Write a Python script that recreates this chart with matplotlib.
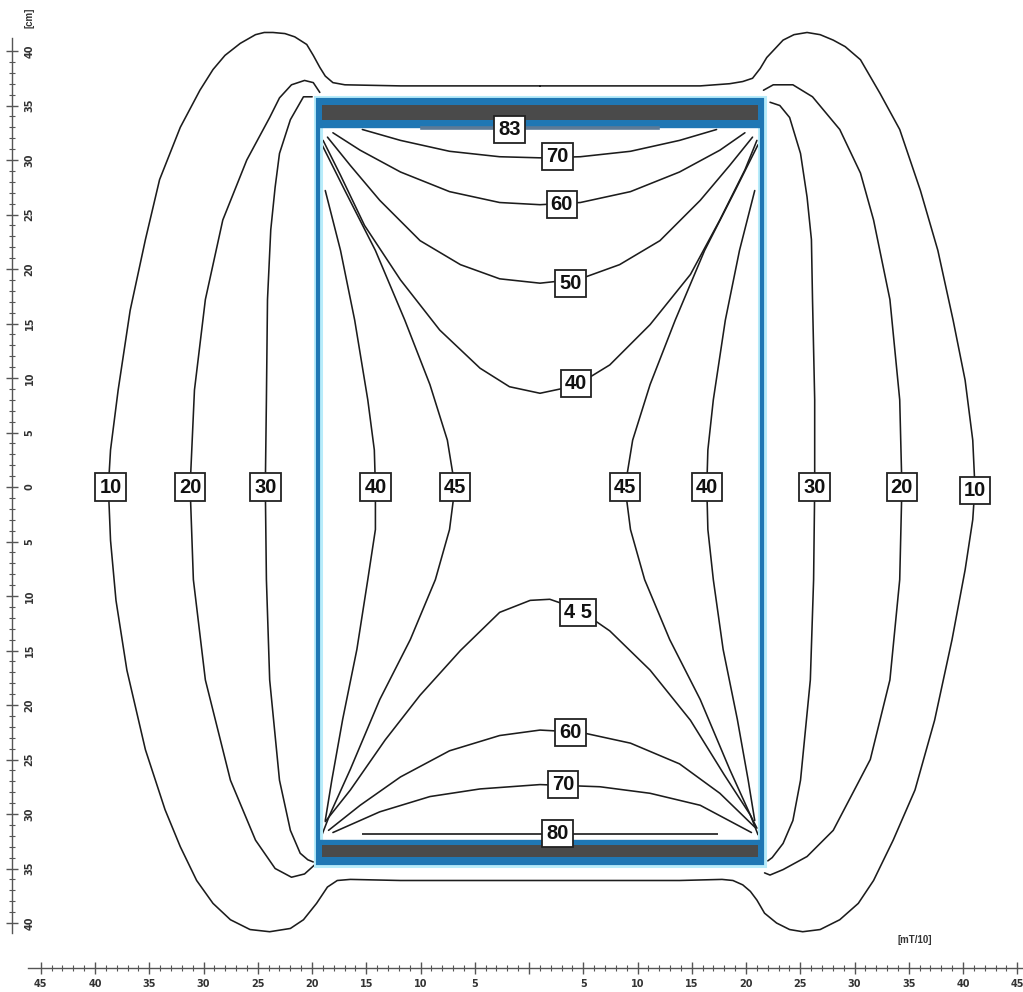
import matplotlib
matplotlib.use("Agg")
import matplotlib.pyplot as plt
from matplotlib.patches import Rectangle
from matplotlib.ticker import FixedLocator, FuncFormatter
import numpy as np

# ---------------- data (cm) ----------------
contour_10 = [(0, 36.8), (-12.8, 36.8), (-17.9, 36.9), (-19.0, 37.1), (-19.7, 37.7), (-20.2, 38.5),
              (-20.8, 39.6), (-21.4, 40.6), (-22.5, 41.3), (-23.4, 41.6), (-24.5, 41.7), (-25.3, 41.7),
              (-26.1, 41.5), (-27.5, 40.7),
              (-28.9, 39.6), (-30.0, 38.3), (-31.2, 36.4), (-33.0, 33.0), (-34.9, 28.2), (-36.2, 22.7),
              (-37.6, 16.2), (-38.7, 8.9), (-39.4, 3.4), (-39.6, 0), (-39.4, -4.9), (-38.9, -10.4),
              (-37.9, -16.8), (-36.2, -24.1), (-34.4, -29.6), (-33.0, -33.0), (-31.5, -36.1),
              (-30.0, -38.2), (-28.4, -39.7), (-26.6, -40.6), (-24.8, -40.8), (-22.9, -40.5),
              (-21.7, -39.7), (-20.5, -38.2), (-19.5, -36.7), (-18.6, -36.1), (-17.4, -36.0),
              (-12.8, -36.1), (0, -36.1), (12.8, -36.1), (16.7, -36.0), (17.7, -36.1), (18.6, -36.5),
              (19.3, -37.1), (19.9, -37.9), (20.6, -39.1), (21.7, -40.0), (22.9, -40.6), (24.1, -40.8),
              (25.7, -40.6), (27.5, -39.7), (29.2, -38.2), (30.6, -36.1), (32.4, -32.4), (34.4, -27.8),
              (36.2, -21.4), (37.8, -14.0), (39.0, -7.6), (39.7, -3.0), (39.9, 0), (39.7, 4.3),
              (39.0, 9.8), (37.9, 15.3), (36.5, 21.7), (34.9, 27.2), (33.0, 32.8), (31.2, 36.1),
              (29.4, 39.2), (28.0, 40.4), (26.9, 41.0), (25.7, 41.5), (24.5, 41.7), (23.3, 41.5),
              (22.3, 41.0), (20.8, 39.4),
              (20.2, 38.4), (19.5, 37.5), (18.6, 37.2), (17.4, 37.0), (14.7, 36.8), (0, 36.8)]

contour_20_left = [(-20.2, 36.2), (-20.8, 37.1), (-21.6, 37.3), (-22.8, 36.9), (-23.9, 35.7), (-24.8, 33.9),
                   (-26.9, 30.0), (-29.1, 24.5), (-30.7, 17.2), (-31.7, 8.9), (-32.1, 0), (-31.8, -8.5),
                   (-30.7, -17.7), (-28.4, -26.9), (-26.1, -32.4), (-24.3, -35.0), (-22.8, -35.8),
                   (-21.6, -35.5), (-20.6, -34.6)]
contour_20_right = [(20.5, 36.4), (21.4, 36.9), (23.2, 36.9), (25.0, 35.8), (27.5, 32.8), (29.4, 28.8),
                    (30.6, 24.5), (32.1, 17.2), (33.0, 8.0), (33.2, 0), (33.0, -8.5), (32.1, -17.7),
                    (30.3, -25.0), (29.1, -27.3), (26.9, -31.5), (24.5, -33.9), (22.3, -35.1),
                    (21.1, -35.6), (20.6, -35.4)]
contour_30_left = [(-20.9, 35.8), (-21.7, 35.8), (-22.9, 33.7), (-23.9, 30.6), (-24.3, 27.5), (-24.7, 23.6),
                   (-25.0, 17.2), (-25.1, 8.0), (-25.2, 0), (-25.1, -8.5), (-24.8, -17.7), (-23.9, -26.9),
                   (-22.9, -31.5), (-22.0, -33.6), (-21.3, -34.2), (-20.8, -34.4)]
contour_30_right = [(21.1, 35.3), (22.0, 35.0), (22.9, 33.9), (23.9, 30.6), (24.5, 26.6), (24.9, 22.7),
                    (25.0, 17.2), (25.2, 8.0), (25.2, 0), (25.1, -8.5), (24.8, -17.7), (23.9, -26.9),
                    (23.2, -30.6), (22.3, -32.7), (21.3, -34.0), (20.9, -34.3)]

contour_70_top = [(-16.3, 32.8), (-12.8, 31.8), (-8.3, 30.8), (-3.7, 30.3), (0, 30.2), (3.7, 30.3),
                  (8.3, 30.8), (12.8, 31.8), (16.2, 32.8)]
contour_60_top = [(-19.0, 32.5), (-16.5, 30.9), (-12.8, 28.9), (-8.3, 27.1), (-3.7, 26.1), (0, 25.9),
                  (3.7, 26.1), (8.3, 27.1), (12.8, 28.9), (16.5, 30.9), (18.8, 32.5)]
contour_50_top = [(-19.5, 32.1), (-17.4, 29.5), (-14.7, 26.3), (-11.0, 22.6), (-7.3, 20.4), (-3.7, 19.1),
                  (0, 18.7), (3.7, 19.1), (7.3, 20.4), (11.0, 22.6), (14.7, 26.3), (17.4, 29.5), (19.5, 32.1)]
contour_40_top = [(-19.9, 31.8), (-18.3, 28.6), (-16.1, 24.0), (-12.8, 19.0), (-9.2, 14.4), (-5.5, 10.9),
                  (-2.8, 9.2), (0, 8.6), (3.3, 9.3), (6.4, 11.2), (10.1, 14.9), (13.8, 19.5), (16.5, 24.5),
                  (18.8, 29.1), (19.9, 31.8)]
contour_45_left = [(-20.0, 31.4), (-17.9, 27.2), (-15.1, 21.7), (-12.4, 15.3), (-10.1, 9.4), (-8.5, 4.3),
                   (-7.8, 0), (-8.3, -3.9), (-9.6, -8.5), (-11.9, -14.0), (-14.7, -19.5), (-17.4, -25.9),
                   (-19.3, -30.1), (-20.0, -31.9)]
contour_45_right = [(20.0, 31.4), (17.9, 27.2), (15.1, 21.7), (12.4, 15.3), (10.1, 9.4), (8.5, 4.3),
                    (7.8, 0), (8.3, -3.9), (9.6, -8.5), (11.9, -14.0), (14.7, -19.5), (17.4, -25.9),
                    (19.3, -30.1), (20.0, -31.9)]
contour_40_left = [(-19.7, 27.2), (-18.3, 21.7), (-17.0, 15.3), (-15.8, 8.0), (-15.2, 3.4), (-15.1, 0),
                   (-15.1, -3.9), (-15.8, -8.5), (-16.8, -14.9), (-18.1, -21.3), (-19.1, -26.9), (-19.7, -30.6)]
contour_40_right = [(19.7, 27.2), (18.3, 21.7), (17.0, 15.3), (15.9, 8.0), (15.4, 3.4), (15.3, 0),
                    (15.4, -3.9), (15.9, -8.5), (16.8, -14.9), (18.1, -21.3), (19.1, -26.9), (19.7, -30.6)]
contour_45_bottom = [(-19.7, -30.7), (-17.4, -27.8), (-14.2, -23.2), (-11.0, -19.1), (-7.3, -15.0),
                     (-3.7, -11.5), (-0.9, -10.4), (0.9, -10.3), (3.5, -11.2), (6.4, -13.2), (10.1, -16.8),
                     (13.8, -21.4), (16.9, -26.4), (19.3, -30.1), (19.9, -31.3)]
contour_60_bottom = [(-19.4, -31.5), (-16.5, -29.2), (-12.8, -26.6), (-8.3, -24.2), (-3.7, -22.8), (0, -22.3),
                     (3.7, -22.5), (8.3, -23.5), (12.8, -25.4), (16.5, -28.1), (19.7, -31.2)]
contour_70_bottom = [(-19.0, -31.7), (-14.7, -29.8), (-10.1, -28.4), (-5.5, -27.7), (0, -27.3), (5.5, -27.5),
                     (10.1, -28.1), (14.7, -29.2), (19.4, -31.7)]

line_83 = [(-10.8, 32.9), (10.8, 32.9)]
line_80 = [(-16.2, -31.8), (16.2, -31.8)]

label_text = ["83", "70", "60", "50", "40",
              "10", "20", "30", "40", "45", "45", "40", "30", "20", "10",
              "4 5", "60", "70", "80"]
label_x = [-2.8, 1.6, 2.0, 2.8, 3.3,
           -39.4, -32.1, -25.2, -15.1, -7.8, 7.8, 15.3, 25.2, 33.2, 39.9,
           3.5, 2.8, 2.1, 1.6]
label_y = [32.8, 30.3, 25.9, 18.7, 9.5,
           0, 0, 0, 0, 0, 0, 0, 0, 0, -0.3,
           -11.5, -22.5, -27.3, -31.8]

# magnet (cm)
magnet_x = (-20.4, 20.4)
magnet_y = (-34.5, 35.5)
top_bar_y = (33.0, 35.5)
top_core_y = (33.7, 35.05)
bottom_bar_y = (-34.5, -32.4)
bottom_core_y = (-33.9, -32.8)

# scales
cm_range = (-40, 40)
mt_range = (-45, 45)

# ---------------- drawing ----------------
W, H = 1023, 992
fig = plt.figure(figsize=(W / 100, H / 100), dpi=100)
fig.patch.set_facecolor("white")

ax = fig.add_axes([0, 0, 1, 1])
ax.set_xlim(-49.54, 44.31)
ax.set_ylim(-46.33, 44.68)
ax.axis("off")

ink = "#1c1c1c"
blue = "#1f77b4"
glow = "#b8ecfa"

all_contours = [contour_10, contour_20_left, contour_20_right, contour_30_left, contour_30_right,
                contour_70_top, contour_60_top, contour_50_top, contour_40_top,
                contour_45_left, contour_45_right, contour_40_left, contour_40_right,
                contour_45_bottom, contour_60_bottom, contour_70_bottom]
for c in all_contours:
    xs, ys = zip(*c)
    ax.plot(xs, ys, color=ink, lw=1.15, solid_joinstyle="round", solid_capstyle="round", zorder=3)

# magnet frame
x0, x1 = magnet_x
y0, y1 = magnet_y
ax.add_patch(Rectangle((x0, y0), x1 - x0, y1 - y0, fill=False, ec=glow, lw=6.5, zorder=4))
ax.add_patch(Rectangle((x0, y0), x1 - x0, y1 - y0, fill=False, ec=blue, lw=3.0, zorder=5))
ax.add_patch(Rectangle((x0, top_bar_y[0]), x1 - x0, top_bar_y[1] - top_bar_y[0], fc=blue, ec=blue, lw=1, zorder=5))
ax.add_patch(Rectangle((x0 + 0.4, top_core_y[0]), x1 - x0 - 0.8, top_core_y[1] - top_core_y[0],
                       fc="#4a4a4a", ec="none", zorder=6))
ax.add_patch(Rectangle((x0, bottom_bar_y[0]), x1 - x0, bottom_bar_y[1] - bottom_bar_y[0], fc=blue, ec=blue, lw=1, zorder=5))
ax.add_patch(Rectangle((x0 + 0.4, bottom_core_y[0]), x1 - x0 - 0.8, bottom_core_y[1] - bottom_core_y[0],
                       fc="#4a4a4a", ec="none", zorder=6))

xs, ys = zip(*line_83)
ax.plot(xs, ys, color="#5d7a96", lw=2.6, zorder=6)
xs, ys = zip(*line_80)
ax.plot(xs, ys, color="#3a3a3a", lw=1.4, zorder=6)

for t, x, y in zip(label_text, label_x, label_y):
    ax.text(x, y, t, ha="center", va="center", fontsize=14.5, fontweight="bold",
            family=["Liberation Sans", "DejaVu Sans"], color="#111111", zorder=8,
            bbox=dict(boxstyle="square,pad=0.2", fc="white", ec="#222222", lw=1.3))

ax.text(-46.8, 43.0, "[cm]", rotation=90, ha="center", va="center", fontsize=7,
        fontweight="bold", color="#333333", family=["Liberation Sans", "DejaVu Sans"])
ax.text(34.4, -41.6, "[mT/10]", ha="center", va="center", fontsize=7,
        fontweight="bold", color="#333333", family=["Liberation Sans", "DejaVu Sans"])

absfmt = FuncFormatter(lambda v, p: "" if abs(v) < 1e-9 else f"{abs(v):.0f}")
axis_col = "#555555"

# left cm scale
axl = fig.add_axes([12 / W, 0, 0.0001, 1])
axl.set_ylim(ax.get_ylim())
axl.patch.set_alpha(0)
for s in ["top", "bottom", "right"]:
    axl.spines[s].set_visible(False)
axl.spines["left"].set_color(axis_col)
axl.spines["left"].set_linewidth(1.0)
axl.spines["left"].set_bounds(-40.9, 41.2)
axl.set_xticks([])
axl.yaxis.set_major_locator(FixedLocator(np.arange(cm_range[0], cm_range[1] + 1, 5)))
axl.yaxis.set_minor_locator(FixedLocator(np.arange(cm_range[0], cm_range[1] + 1, 1)))
axl.yaxis.set_major_formatter(FuncFormatter(lambda v, p: f"{abs(v):.0f}"))
axl.tick_params(axis="y", which="major", direction="inout", length=8, width=1.0, color=axis_col,
                left=True, right=False, labelleft=False, labelright=True, labelsize=7,
                labelcolor="#333333", pad=5, labelrotation=90)
axl.tick_params(axis="y", which="minor", direction="inout", length=5, width=0.8, color=axis_col,
                left=True, right=False)
for lab in axl.get_yticklabels():
    lab.set_fontweight("bold")
    lab.set_va("center")

# bottom mT/10 scale
axb = fig.add_axes([0, (H - 968) / H, 1, 0.0001])
axb.set_xlim(-48.76, 45.53)
axb.patch.set_alpha(0)
for s in ["top", "left", "right"]:
    axb.spines[s].set_visible(False)
axb.spines["bottom"].set_color(axis_col)
axb.spines["bottom"].set_linewidth(1.0)
axb.spines["bottom"].set_bounds(-46.2, 45.53)
axb.set_yticks([])
axb.xaxis.set_major_locator(FixedLocator(np.arange(mt_range[0], mt_range[1] + 1, 5)))
axb.xaxis.set_minor_locator(FixedLocator(np.arange(mt_range[0], mt_range[1] + 1, 1)))
axb.xaxis.set_major_formatter(absfmt)
axb.tick_params(axis="x", which="major", direction="inout", length=8, width=1.0, color=axis_col,
                labelsize=7, labelcolor="#333333", pad=4)
axb.tick_params(axis="x", which="minor", direction="inout", length=5, width=0.8, color=axis_col)
for lab in axb.get_xticklabels():
    lab.set_fontweight("bold")

fig.savefig("out.png", dpi=100, facecolor="white")
